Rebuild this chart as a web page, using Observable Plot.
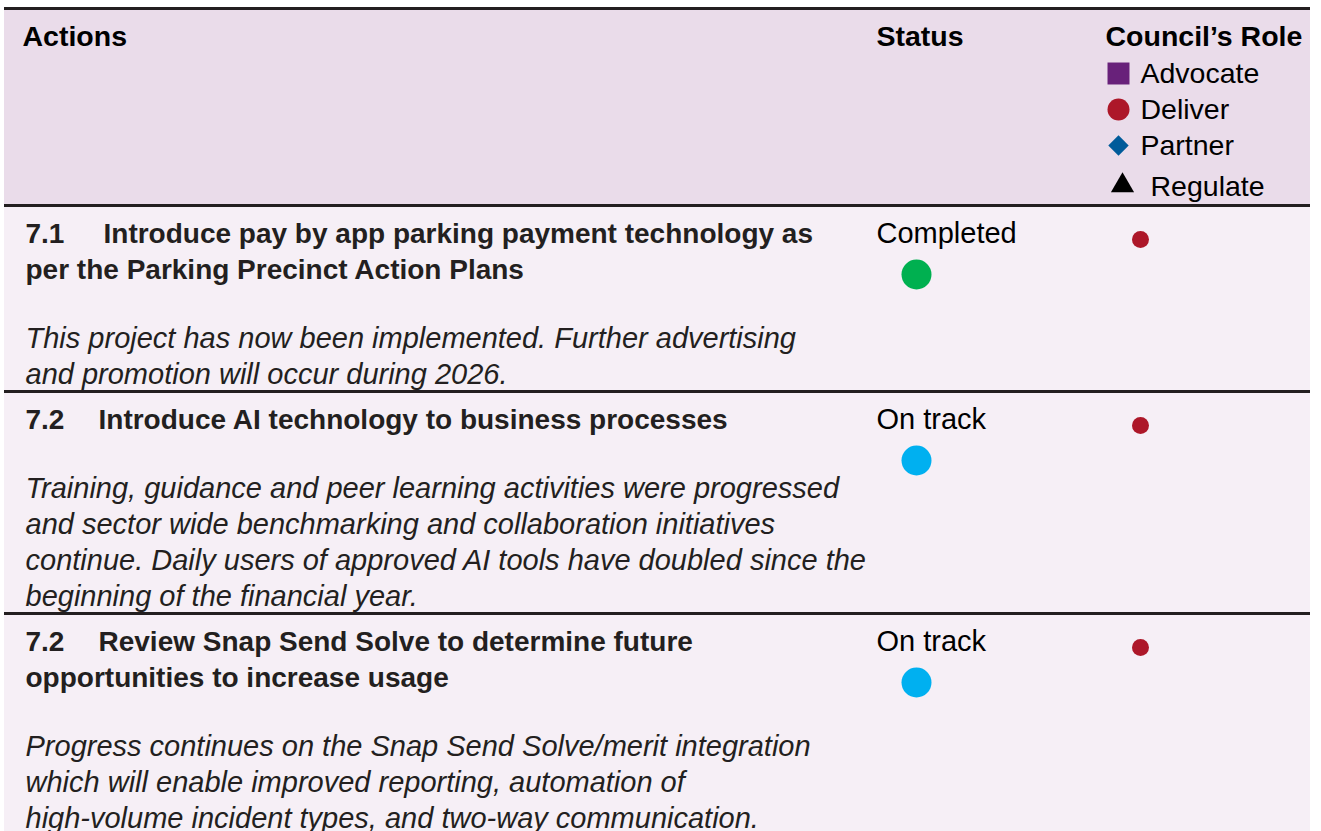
<!DOCTYPE html>
<html><head><meta charset="utf-8">
<script src="https://cdn.jsdelivr.net/npm/d3@7"></script>
<script src="https://cdn.jsdelivr.net/npm/@observablehq/plot@0.6"></script>
<style>html,body{margin:0;padding:0;background:#fff;} #chart svg{display:block;}</style>
</head><body><div id="chart"></div>
<script>
// ---- data ----
const columns = ["Actions", "Status", "Council’s Role"];
const roles = ["Advocate", "Deliver", "Partner", "Regulate"];
const roleSymbols = ["square", "circle", "diamond2", "triangle"];
const roleColors = ["#68217a", "#ad1729", "#005b9a", "#000000"];
const actionIds = ["7.1", "7.2", "7.2"];
const actionTitles = [
  ["Introduce pay by app parking payment technology as", "per the Parking Precinct Action Plans"],
  ["Introduce AI technology to business processes"],
  ["Review Snap Send Solve to determine future", "opportunities to increase usage"]
];
const actionComments = [
  ["This project has now been implemented. Further advertising", "and promotion will occur during 2026."],
  ["Training, guidance and peer learning activities were progressed", "and sector wide benchmarking and collaboration initiatives", "continue. Daily users of approved AI tools have doubled since the", "beginning of the financial year."],
  ["Progress continues on the Snap Send Solve/merit integration", "which will enable improved reporting, automation of", "high-volume incident types, and two-way communication."]
];
const actionStatus = ["Completed", "On track", "On track"];
const actionRole = ["Deliver", "Deliver", "Deliver"];
const statusNames = ["Completed", "On track"];
const statusColors = ["#00b050", "#00b0f0"];

// ---- layout ----
const W = 1321, H = 831, L = 4, R = 1310, LH = 36;
const FONT = '"Liberation Sans", Arial, Helvetica, sans-serif';
const INK = "#231f20";
const colX = [22, 876, 1105];
const headerY = 36, headerBottom = 205, topRule = 8;
const legendY = roles.map((r, i) => 73 + i * LH + (i === 3 ? 5 : 0));

const rows = [];
let cursor = headerBottom;
actionIds.forEach((id, i) => {
  const t = cursor;
  const titleY = actionTitles[i].map((_, j) => t + 29 + j * LH);
  const cStart = titleY[titleY.length - 1] + 68;
  const commentY = actionComments[i].map((_, k) => cStart + k * LH);
  const bottom = commentY[commentY.length - 1] + 17;
  rows.push({ i, id, t, titleY, commentY, bottom });
  cursor = bottom;
});

const headerText = columns.map((c, i) => ({ text: c, x: colX[i], y: headerY }));
const legendText = roles.map((r, i) => ({ text: r, x: i === 3 ? 1150 : 1140, y: legendY[i] }));
const legendSym = roles.map((r, i) => ({ role: r, x: i === 3 ? 1122 : 1118, y: legendY[i] + (i === 3 ? -1 : 0), symbol: roleSymbols[i], fill: roleColors[i], size: [12.4, 11, 9.2, 8.6][i] }));

const idText = rows.map(r => ({ text: r.id, x: 25, y: r.titleY[0] }));
const titleText = rows.flatMap(r => actionTitles[r.i].map((s, j) => ({ text: s, x: j === 0 ? (r.i === 0 ? 103 : 98) : 25, y: r.titleY[j] })));
const commentText = rows.flatMap(r => actionComments[r.i].map((s, k) => ({ text: s, x: 25, y: r.commentY[k] })));
const statusText = rows.map(r => ({ text: actionStatus[r.i], x: colX[1], y: r.titleY[0] - 1 }));
const statusDots = rows.map(r => ({ x: 916, y: r.t + 69, fill: statusColors[statusNames.indexOf(actionStatus[r.i])] }));
const roleDots = rows.map(r => {
  const k = roles.indexOf(actionRole[r.i]);
  return { x: 1140, y: r.t + 34, fill: roleColors[k], symbol: roleSymbols[k] };
});
const rules = [topRule, headerBottom, ...rows.map(r => r.bottom).filter(b => b < H)];

const chart = Plot.plot({
  width: W, height: H, margin: 0,
  x: { domain: [0, W], range: [0, W], axis: null },
  y: { domain: [0, H], range: [0, H], axis: null },
  r: { type: "identity" },
  symbol: { type: "identity" },
  color: { type: "identity" },
  style: { background: "transparent", fontFamily: FONT, color: INK },
  marks: [
    Plot.rect([{ x1: L, x2: R, y1: topRule, y2: headerBottom }], { x1: "x1", x2: "x2", y1: "y1", y2: "y2", fill: "#eadcea" }),
    Plot.rect([{ x1: L, x2: R, y1: headerBottom, y2: H }], { x1: "x1", x2: "x2", y1: "y1", y2: "y2", fill: "#f6eff6" }),
    Plot.ruleY(rules, { y: d => d, x1: L, x2: R, stroke: INK, strokeWidth: 3 }),
    Plot.text(headerText, { x: "x", y: "y", text: "text", textAnchor: "start", fontSize: 28.5, fontWeight: "bold", fill: "#000" }),
    Plot.text(legendText, { x: "x", y: "y", text: "text", textAnchor: "start", fontSize: 28.5, fill: "#000" }),
    Plot.dot(legendSym, { x: "x", y: "y", symbol: "symbol", fill: "fill", r: "size" }),
    Plot.text(idText, { x: "x", y: "y", text: "text", textAnchor: "start", fontSize: 28, fontWeight: "bold", fill: INK }),
    Plot.text(titleText, { x: "x", y: "y", text: "text", textAnchor: "start", fontSize: 28, fontWeight: "bold", fill: INK, ariaLabel: "titles" }),
    Plot.text(commentText, { x: "x", y: "y", text: "text", textAnchor: "start", fontSize: 29, fontStyle: "italic", fill: INK }),
    Plot.text(statusText, { x: "x", y: "y", text: "text", textAnchor: "start", fontSize: 29, fill: "#000" }),
    Plot.dot(statusDots, { x: "x", y: "y", fill: "fill", r: 15 }),
    Plot.dot(roleDots, { x: "x", y: "y", fill: "fill", symbol: "symbol", r: 8.5 })
  ]
});
d3.select(chart).selectAll('g[aria-label="titles"] text').style("word-spacing", "-2px");
document.getElementById("chart").appendChild(chart);
</script>
</body></html>
